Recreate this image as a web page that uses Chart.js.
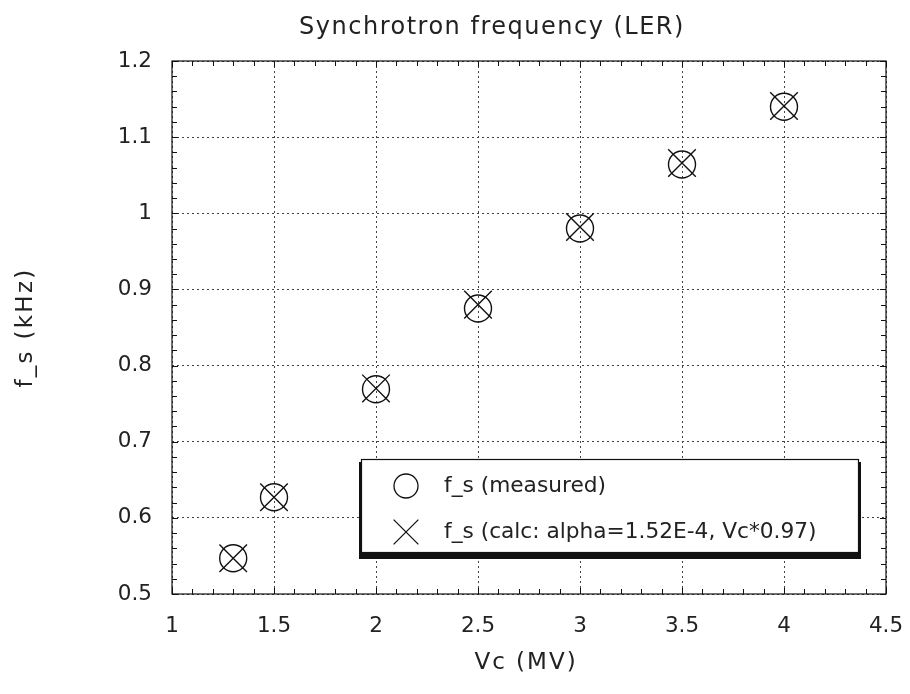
<!DOCTYPE html>
<html>
<head>
<meta charset="utf-8">
<script src="https://cdn.jsdelivr.net/npm/chart.js@4/dist/chart.umd.min.js"></script>
<style>
  html, body { margin: 0; padding: 0; background: #fff; }
  #wrap { width: 910px; height: 694px; }
</style>
</head>
<body>
<div id="wrap"><canvas id="c"></canvas></div>
<script>
const titleText = 'Synchrotron frequency (LER)';
const xTitle = 'Vc (MV)';
const yTitle = 'f_s (kHz)';

const vc = [1.3, 1.5, 2, 2.5, 3, 3.5, 4];
const fsMeasured = [0.547, 0.627, 0.769, 0.875, 0.980, 1.064, 1.140];
const fsCalc = [0.547, 0.627, 0.770, 0.880, 0.982, 1.066, 1.141];

const seriesNames = ['f_s (measured)', 'f_s (calc: alpha=1.52E-4, Vc*0.97)'];

const FONT = "'DejaVu Sans', sans-serif";
const INK = '#111';
const TEXT = '#222';

const fmt = v => Number(v.toFixed(1)).toString();

// frame, minor ticks, titles
const framePlugin = {
  id: 'frame',
  beforeDatasetsDraw(chart) {
    const { ctx, chartArea: a, scales: { x, y } } = chart;
    ctx.save();
    ctx.strokeStyle = INK;
    ctx.lineWidth = 1.2;
    ctx.strokeRect(a.left, a.top, a.right - a.left, a.bottom - a.top);
    ctx.lineWidth = 1;
    for (let i = 0; i <= 35; i++) {
      const px = Math.round(x.getPixelForValue(1 + i * 0.1)) + 0.5;
      const len = (i % 5 === 0) ? 6 : 5;
      ctx.beginPath();
      ctx.moveTo(px, a.bottom); ctx.lineTo(px, a.bottom - len);
      ctx.moveTo(px, a.top); ctx.lineTo(px, a.top + len);
      ctx.stroke();
    }
    for (let i = 0; i <= 35; i++) {
      const py = Math.round(y.getPixelForValue(0.5 + i * 0.02)) + 0.5;
      const len = (i % 5 === 0) ? 6 : 5;
      ctx.beginPath();
      ctx.moveTo(a.left, py); ctx.lineTo(a.left + len, py);
      ctx.moveTo(a.right, py); ctx.lineTo(a.right - len, py);
      ctx.stroke();
    }
    ctx.restore();
  },
  afterDraw(chart) {
    const { ctx, chartArea: a } = chart;
    ctx.save();
    ctx.fillStyle = TEXT;
    ctx.textAlign = 'center';
    ctx.textBaseline = 'middle';

    ctx.font = '24px ' + FONT;
    ctx.letterSpacing = '1.5px';
    ctx.fillText(titleText, 492, 28);

    ctx.font = '23px ' + FONT;
    ctx.letterSpacing = '2px';
    ctx.fillText(xTitle, (a.left + a.right) / 2 - 3, 663);

    ctx.translate(26, (a.top + a.bottom) / 2);
    ctx.rotate(-Math.PI / 2);
    ctx.letterSpacing = '2.3px';
    ctx.fillText(yTitle, 0, 0);
    ctx.restore();
  }
};

// boxed legend with drop shadow, drawn inside the plot
const boxLegend = {
  id: 'boxLegend',
  afterDatasetsDraw(chart) {
    const { ctx } = chart;
    const bx = 361, by = 459, bw = 498, bh = 94;
    ctx.save();
    ctx.fillStyle = '#111';
    ctx.fillRect(bx - 2, by + 3, bw + 4, bh + 3);
    ctx.fillStyle = '#fff';
    ctx.fillRect(bx, by, bw, bh);
    ctx.strokeStyle = INK;
    ctx.lineWidth = 1.2;
    ctx.strokeRect(bx + 0.5, by + 0.5, bw - 1, bh - 1);

    const rows = [
      { style: 'circle', r: 12, text: seriesNames[0], y: by + 27 },
      { style: 'crossRot', r: 17.5, text: seriesNames[1], y: by + 73 }
    ];
    rows.forEach(row => {
      ctx.strokeStyle = INK;
      ctx.lineWidth = 1.3;
      Chart.helpers.drawPoint(ctx, { pointStyle: row.style, radius: row.r, borderWidth: 1.3, rotation: 0 }, 406, row.y);
      ctx.fillStyle = TEXT;
      ctx.font = '21.7px ' + FONT;
      ctx.textAlign = 'left';
      ctx.textBaseline = 'middle';
      ctx.fillText(row.text, 444, row.y);
    });
    ctx.restore();
  }
};

const gridOpts = {
  color: '#444',
  lineWidth: 1,
  drawTicks: false
};

new Chart(document.getElementById('c'), {
  type: 'scatter',
  data: {
    datasets: [
      {
        label: seriesNames[0],
        data: vc.map((v, i) => ({ x: v, y: fsMeasured[i] })),
        pointStyle: 'circle',
        pointRadius: 13.5,
        pointHoverRadius: 13.5,
        borderColor: INK,
        backgroundColor: 'rgba(0,0,0,0)',
        borderWidth: 1.4
      },
      {
        label: seriesNames[1],
        data: vc.map((v, i) => ({ x: v, y: fsCalc[i] })),
        pointStyle: 'crossRot',
        pointRadius: 19.5,
        pointHoverRadius: 19.5,
        borderColor: INK,
        backgroundColor: 'rgba(0,0,0,0)',
        borderWidth: 1.4
      }
    ]
  },
  options: {
    responsive: true,
    maintainAspectRatio: false,
    animation: false,
    events: [],
    layout: { padding: { top: 61, right: 24, bottom: 0, left: 0 } },
    plugins: {
      legend: { display: false },
      title: { display: false },
      tooltip: { enabled: false }
    },
    scales: {
      x: {
        type: 'linear',
        min: 1, max: 4.5,
        afterFit(scale) {
          scale.height = 100;
          // keep the plot edge fixed, labels may overhang into the margin
          scale.paddingLeft = 0;
          scale.paddingRight = 0;
        },
        ticks: {
          stepSize: 0.5,
          padding: 20,
          color: TEXT,
          font: { family: FONT, size: 21.5 },
          maxRotation: 0,
          callback: fmt
        },
        grid: { ...gridOpts },
        border: { display: false, dash: [2, 3] }
      },
      y: {
        type: 'linear',
        min: 0.5, max: 1.2,
        afterFit(scale) { scale.width = 172; },
        ticks: {
          stepSize: 0.1,
          padding: 20,
          color: TEXT,
          font: { family: FONT, size: 21.5 },
          callback: fmt
        },
        grid: { ...gridOpts },
        border: { display: false, dash: [2, 3] }
      }
    }
  },
  plugins: [framePlugin, boxLegend]
});
</script>
</body>
</html>
